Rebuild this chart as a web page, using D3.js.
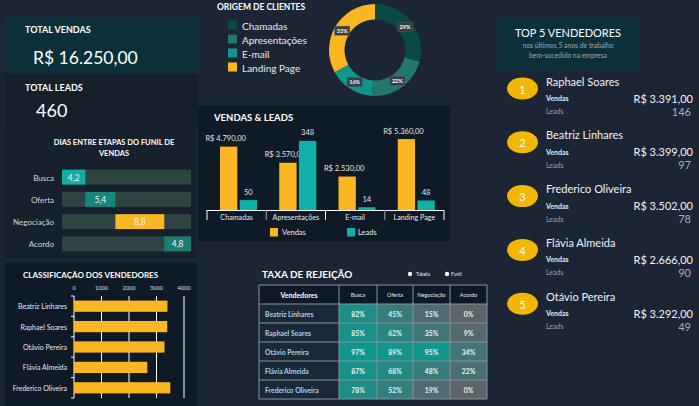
<!DOCTYPE html>
<html><head><meta charset="utf-8">
<script src="https://cdn.jsdelivr.net/npm/d3@7"></script>
<style>
html,body{margin:0;padding:0;background:#1b2533;}
svg{display:block;font-family:Lato,"Open Sans",sans-serif;}
</style></head>
<body>
<svg id="c" width="699" height="406"></svg>
<script>
// ---------------- DATA ----------------
const totalVendas = 16250;
const totalLeads = 460;

const funnelStages = ["Busca", "Oferta", "Negociação", "Acordo"];
const funnelDays = [4.2, 5.4, 8.8, 4.8];

const originCategories = ["Chamadas", "Apresentações", "E-mail", "Landing Page"];
const originShares = [29, 22, 16, 33];

const salesByOrigin = [4790, 3570, 2530, 5360];
const leadsByOrigin = [50, 348, 14, 48];

const rankNames = ["Beatriz Linhares", "Raphael Soares", "Otávio Pereira", "Flávia Almeida", "Frederico Oliveira"];
const rankSales = [3399, 3391, 3292, 2666, 3502];
const rankTicks = [0, 1000, 2000, 3000, 4000];

const rejSellers = ["Beatriz Linhares", "Raphael Soares", "Otávio Pereira", "Flávia Almeida", "Frederico Oliveira"];
const rejStages = ["Busca", "Oferta", "Negociação", "Acordo"];
const rejRates = [
  [82, 45, 15, 0],
  [85, 62, 35, 9],
  [97, 89, 95, 34],
  [87, 68, 48, 22],
  [78, 52, 19, 0]
];

const topNames = ["Raphael Soares", "Beatriz Linhares", "Frederico Oliveira", "Flávia Almeida", "Otávio Pereira"];
const topSales = [3391, 3399, 3502, 2666, 3292];
const topLeads = [146, 97, 78, 90, 49];

// ---------------- SETUP ----------------
const YELLOW = "#fbb623", TEAL = "#0fb0a5", PANEL = "#0e1a26", KPI = "#0b3039";
const loc = d3.formatLocale({decimal: ",", thousands: ".", grouping: [3], currency: ["R$ ", ""]});
const brl = loc.format("$,.2f");
const dec1 = loc.format(".1f");
const svg = d3.select("#c");
svg.append("rect").attr("width", 699).attr("height", 406).attr("fill", "#1b2533");

function txt(g, x, y, s, o = {}) {
  return g.append("text").attr("x", x).attr("y", y).text(s)
    .attr("font-size", o.size || 10).attr("fill", o.fill || "#ffffff")
    .attr("font-weight", o.weight || "normal")
    .attr("text-anchor", o.anchor || "start")
    .attr("dominant-baseline", "central");
}

// ---------------- KPIs ----------------
svg.append("rect").attr("x", 5).attr("y", 17).attr("width", 193).attr("height", 57).attr("fill", KPI);
txt(svg, 25, 29, "TOTAL VENDAS", {size: 9, weight: "bold"});
txt(svg, 33, 57, brl(totalVendas), {size: 17.5});
svg.append("rect").attr("x", 5).attr("y", 74).attr("width", 193).attr("height", 54).attr("fill", "#16202b");
txt(svg, 25, 87, "TOTAL LEADS", {size: 9, weight: "bold"});
txt(svg, 36, 110, String(totalLeads), {size: 18});

// ---------------- FUNNEL ----------------
svg.append("rect").attr("x", 5).attr("y", 128).attr("width", 190).attr("height", 130).attr("fill", "#17212d");
txt(svg, 114, 142, "DIAS ENTRE ETAPAS DO FUNIL DE", {size: 7.5, weight: "bold", anchor: "middle"});
txt(svg, 114, 153, "VENDAS", {size: 7.5, weight: "bold", anchor: "middle"});
const fTotal = d3.sum(funnelDays);
const fx = d3.scaleLinear().domain([0, fTotal]).range([62, 191]);
const fy = d3.scaleBand().domain(funnelStages).range([166, 255]).paddingInner(0.33).paddingOuter(0.165);
const fCols = ["#13aea3", "#15877c", YELLOW, "#1c7d72"];
const starts = d3.cumsum([0].concat(funnelDays)).slice(0, funnelDays.length);
funnelStages.forEach((s, i) => {
  svg.append("rect").attr("x", fx(0)).attr("y", fy(s)).attr("width", fx(fTotal) - fx(0)).attr("height", fy.bandwidth()).attr("fill", "#2f4543");
  svg.append("rect").attr("x", fx(starts[i])).attr("y", fy(s)).attr("width", fx(starts[i] + funnelDays[i]) - fx(starts[i])).attr("height", fy.bandwidth()).attr("fill", fCols[i]);
  txt(svg, (fx(starts[i]) + fx(starts[i] + funnelDays[i])) / 2, fy(s) + fy.bandwidth() / 2 + 0.5, dec1(funnelDays[i]), {size: 8.5, anchor: "middle", fill: "#eef4f4"});
  txt(svg, 54, fy(s) + fy.bandwidth() / 2 + 0.5, s, {size: 8, anchor: "end", fill: "#d6dadd"});
});

// ---------------- CLASSIFICAÇÃO ----------------
svg.append("rect").attr("x", 5).attr("y", 263).attr("width", 192).attr("height", 143).attr("fill", PANEL);
txt(svg, 23, 275, "CLASSIFICAÇÃO DOS VENDEDORES", {size: 8, weight: "bold"});
const cx = d3.scaleLinear().domain([0, 4000]).range([74, 184]);
const cy = d3.scaleBand().domain(rankNames).range([296, 398]).paddingInner(0.45).paddingOuter(0.225);
rankTicks.forEach(t => {
  txt(svg, cx(t), 288, String(t), {size: 5.5, anchor: "middle", fill: "#dfe3e6"});
  svg.append("line").attr("x1", cx(t)).attr("x2", cx(t)).attr("y1", 296).attr("y2", 398).attr("stroke", "#ffffff").attr("stroke-width", 1);
});
const bounds = rankNames.map(n => cy(n) - cy.step() * cy.paddingInner() / 2).concat([398]);
bounds[0] = 296;
bounds.forEach(b => svg.append("line").attr("x1", 71).attr("x2", 74).attr("y1", b).attr("y2", b).attr("stroke", "#fff"));
rankNames.forEach((n, i) => {
  svg.append("rect").attr("x", cx(0)).attr("y", cy(n)).attr("width", cx(rankSales[i]) - cx(0)).attr("height", cy.bandwidth()).attr("fill", YELLOW);
  txt(svg, 67, cy(n) + cy.bandwidth() / 2, n, {size: 7, anchor: "end", fill: "#e6e9ec"});
});

// ---------------- ORIGEM DE CLIENTES ----------------
txt(svg, 217, 7, "ORIGEM DE CLIENTES", {size: 8.5, weight: "bold"});
const oCols = ["#0a4a43", "#23776d", "#10968b", YELLOW];
originCategories.forEach((c, i) => {
  svg.append("rect").attr("x", 228).attr("y", 20.5 + i * 14).attr("width", 9).attr("height", 9).attr("fill", oCols[i]);
  txt(svg, 242, 25.5 + i * 14, c, {size: 10, fill: "#e8ecef"});
});
const pie = d3.pie().sort(null).value(d => d)(originShares);
const arc = d3.arc().innerRadius(30.5).outerRadius(46);
const dg = svg.append("g").attr("transform", "translate(375,50)");
dg.selectAll("path").data(pie).join("path").attr("d", arc).attr("fill", (d, i) => oCols[i]);
const lArc = d3.arc().innerRadius(38).outerRadius(38);
pie.forEach(d => {
  const [px, py] = lArc.centroid(d);
  dg.append("rect").attr("x", px - 7.5).attr("y", py - 4.5).attr("width", 15).attr("height", 9).attr("fill", "#3a3d40").attr("stroke", "#55595c").attr("stroke-width", 0.5);
  txt(dg, px, py + 0.3, d.value + "%", {size: 5.5, weight: "bold", anchor: "middle"});
});

// ---------------- VENDAS & LEADS ----------------
svg.append("rect").attr("x", 198).attr("y", 106).attr("width", 252).attr("height", 135).attr("fill", PANEL);
txt(svg, 214, 117, "VENDAS & LEADS", {size: 9.5, weight: "bold"});
const x0 = d3.scaleBand().domain(originCategories).range([207, 444]);
const x1 = d3.scaleBand().domain(["Vendas", "Leads"]).range([13, 50]).paddingInner(0.12);
const yV = d3.scaleLinear().domain([0, 6000]).range([210, 130.6]);
const yL = d3.scaleLinear().domain([0, 400]).range([210, 130.6]);
originCategories.forEach((c, i) => {
  const bx = x0(c) + x1("Vendas");
  svg.append("rect").attr("x", bx).attr("y", yV(salesByOrigin[i])).attr("width", x1.bandwidth()).attr("height", 210 - yV(salesByOrigin[i])).attr("fill", YELLOW);
});
originCategories.forEach((c, i) => {
  const bx = x0(c) + x1("Vendas") + x1.bandwidth() / 2 - 3;
  txt(svg, bx, yV(salesByOrigin[i]) - 8, brl(salesByOrigin[i]), {size: 7.5, anchor: "middle", fill: "#e2e6e9"});
});
originCategories.forEach((c, i) => {
  const bx = x0(c) + x1("Leads");
  svg.append("rect").attr("x", bx).attr("y", yL(leadsByOrigin[i])).attr("width", x1.bandwidth()).attr("height", 210 - yL(leadsByOrigin[i])).attr("fill", TEAL);
  txt(svg, bx + x1.bandwidth() / 2, yL(leadsByOrigin[i]) - 8, String(leadsByOrigin[i]), {size: 7.5, anchor: "middle", fill: "#e2e6e9"});
});
svg.append("line").attr("x1", 207).attr("x2", 444).attr("y1", 210.5).attr("y2", 210.5).attr("stroke", "#fff");
originCategories.concat([null]).forEach((c, i) => {
  const bx = c ? x0(c) : x0.range()[1];
  svg.append("line").attr("x1", bx).attr("x2", bx).attr("y1", 210).attr("y2", 220).attr("stroke", i === 1 || i === 3 ? "#9aa0a6" : "#fff");
  if (c) txt(svg, x0(c) + x0.bandwidth() / 2, 217, c, {size: 7.2, anchor: "middle", fill: "#e6e9ec"});
});
svg.append("rect").attr("x", 270).attr("y", 228).attr("width", 8).attr("height", 8.5).attr("fill", YELLOW);
txt(svg, 282, 232.5, "Vendas", {size: 7.5, fill: "#e6e9ec"});
svg.append("rect").attr("x", 347).attr("y", 228).attr("width", 8).attr("height", 8.5).attr("fill", TEAL);
txt(svg, 358, 232.5, "Leads", {size: 7.5, fill: "#e6e9ec"});

// ---------------- TAXA DE REJEIÇÃO ----------------
txt(svg, 262, 274, "TAXA DE REJEIÇÃO", {size: 10, weight: "bold"});
svg.append("circle").attr("cx", 410).attr("cy", 274).attr("r", 2.2).attr("fill", "#fff");
txt(svg, 416, 274, "Tabela", {size: 5, fill: "#e6e9ec"});
svg.append("circle").attr("cx", 447).attr("cy", 274).attr("r", 2.2).attr("fill", "#fff");
txt(svg, 451, 274, "Funil", {size: 5, fill: "#e6e9ec"});
const colX = [259, 339, 377, 413, 450, 487];
const rowY = d3.scaleBand().domain(["h"].concat(rejSellers)).range([285, 399]);
const heat = d3.scaleLinear().domain([0, 100]).range(["#5c6369", "#0b9a8f"]).interpolate(d3.interpolateRgb);
const tg = svg.append("g");
tg.append("rect").attr("x", colX[0]).attr("y", rowY("h")).attr("width", colX[5] - colX[0]).attr("height", rowY.bandwidth()).attr("fill", "#0d1a26");
txt(tg, (colX[0] + colX[1]) / 2, rowY("h") + rowY.bandwidth() / 2, "Vendedores", {size: 7, weight: "bold", anchor: "middle"});
rejStages.forEach((s, j) => txt(tg, (colX[j + 1] + colX[j + 2]) / 2, rowY("h") + rowY.bandwidth() / 2, s, {size: 5.5, anchor: "middle", fill: "#e6e9ec"}));
rejSellers.forEach((n, i) => {
  const y = rowY(n);
  tg.append("rect").attr("x", colX[0]).attr("y", y).attr("width", colX[1] - colX[0]).attr("height", rowY.bandwidth()).attr("fill", "#1b2838");
  txt(tg, colX[0] + 6, y + rowY.bandwidth() / 2, n, {size: 6.8, weight: "bold", fill: "#a9d0ea"});
  rejStages.forEach((s, j) => {
    tg.append("rect").attr("x", colX[j + 1]).attr("y", y).attr("width", colX[j + 2] - colX[j + 1]).attr("height", rowY.bandwidth()).attr("fill", heat(rejRates[i][j]));
    txt(tg, (colX[j + 1] + colX[j + 2]) / 2, y + rowY.bandwidth() / 2, rejRates[i][j] + "%", {size: 6.8, weight: "bold", anchor: "middle", fill: "#eef2f4"});
  });
});
const gridCol = "#8c9196";
colX.forEach(x => tg.append("line").attr("x1", x).attr("x2", x).attr("y1", 285).attr("y2", 399).attr("stroke", gridCol));
rowY.domain().concat([null]).forEach(r => {
  const y = r ? rowY(r) : 399;
  tg.append("line").attr("x1", colX[0]).attr("x2", colX[5]).attr("y1", y).attr("y2", y).attr("stroke", gridCol);
});

// ---------------- TOP 5 ----------------
svg.append("rect").attr("x", 497).attr("y", 18).attr("width", 142).attr("height", 51).attr("fill", KPI);
txt(svg, 568, 32, "TOP 5 VENDEDORES", {size: 11, anchor: "middle"});
txt(svg, 568, 45, "nos últimos 5 anos de trabalho", {size: 6.8, anchor: "middle", fill: "#9ea7af"});
txt(svg, 568, 55, "bem-sucedido na empresa", {size: 6.8, anchor: "middle", fill: "#9ea7af"});
const ty = d3.scaleBand().domain(topNames).range([81, 81 + 5 * 53.8]);
topNames.forEach((n, i) => {
  const y = ty(n);
  svg.append("ellipse").attr("cx", 522.5).attr("cy", y + 7.5).attr("rx", 15.5).attr("ry", 11).attr("fill", "#f2b705");
  txt(svg, 522.5, y + 8, String(i + 1), {size: 11, anchor: "middle"});
  txt(svg, 546, y, n, {size: 11, fill: "#f2f4f6"});
  txt(svg, 546, y + 17, "Vendas", {size: 7, weight: "bold", fill: "#e6e9ec"});
  txt(svg, 693, y + 17, brl(topSales[i]), {size: 11, anchor: "end", fill: "#f2f4f6"});
  txt(svg, 546, y + 30, "Leads", {size: 7, fill: "#9aa2a9"});
  txt(svg, 691, y + 30, String(topLeads[i]), {size: 11, anchor: "end", fill: "#aab1b7"});
});
</script>
</body></html>
